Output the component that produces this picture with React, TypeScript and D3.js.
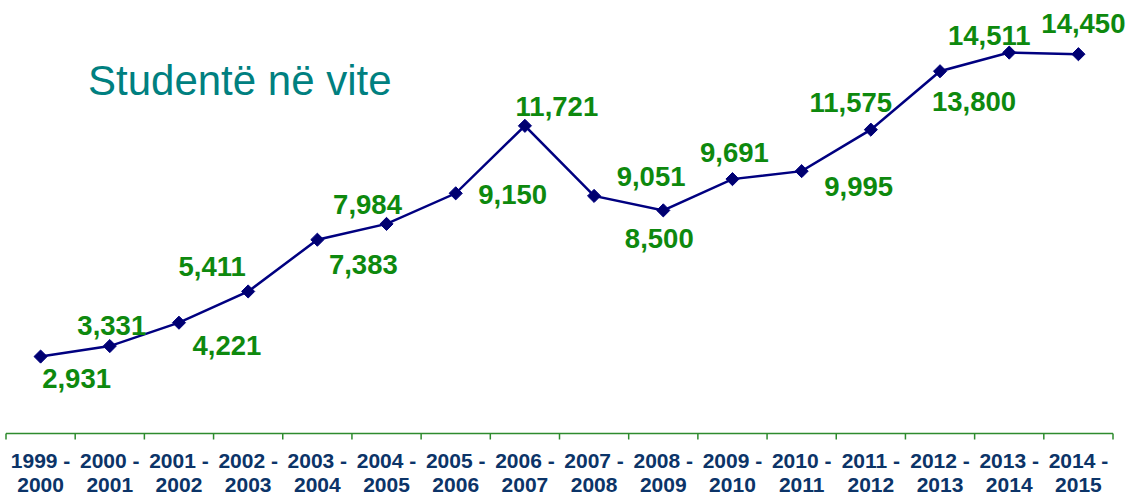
import React from "react";
import * as d3 from "d3";

const categories: string[][] = [
  ["1999 -", "2000"], ["2000 -", "2001"], ["2001 -", "2002"], ["2002 -", "2003"],
  ["2003 -", "2004"], ["2004 -", "2005"], ["2005 -", "2006"], ["2006 -", "2007"],
  ["2007 -", "2008"], ["2008 -", "2009"], ["2009 -", "2010"], ["2010 -", "2011"],
  ["2011 -", "2012"], ["2012 -", "2013"], ["2013 -", "2014"], ["2014 -", "2015"],
];
const students: number[] = [
  2931, 3331, 4221, 5411, 7383, 7984, 9150, 11721,
  9051, 8500, 9691, 9995, 11575, 13800, 14511, 14450,
];
// label offsets (dx, dy) relative to each point, layout only
const labelOffsets: [number, number][] = [
  [36, 31], [2, -11], [48, 32], [-36, -15], [46, 34], [-19, -10], [57, 11], [32, -10],
  [57, -10], [-4, 38], [2, -17], [57, 25], [-20, -18], [34, 40], [-20, -8], [5, -21],
];
const title = "Studentë në vite";

const W = 1132, H = 495;
const FONT = "Arial, 'Liberation Sans', Helvetica, sans-serif";

export default function App() {
  const x = d3.scaleBand<number>().domain(d3.range(categories.length)).range([6, 1113]);
  const y = d3.scaleLinear().domain([0, 16000]).range([433.5, 13.5]);
  const cx = (i: number) => (x(i) as number) + x.bandwidth() / 2;
  const line = d3.line<number>().x((_, i) => cx(i)).y((d) => y(d));
  const fmt = d3.format(",");
  const tickXs = d3.range(categories.length + 1).map((i) => 6 + i * x.step());
  const axisY = 433.5;

  return (
    <svg width={W} height={H} style={{ position: "absolute", left: 0, top: 0, background: "#fff" }}>
      <text x={88} y={95} fill="#008080" fontFamily={FONT} fontSize={42}>{title}</text>
      <line x1={6} x2={1113} y1={axisY} y2={axisY} stroke="#2e8b2e" strokeWidth={1.5} />
      {tickXs.map((tx, i) => (
        <line key={i} x1={tx} x2={tx} y1={axisY} y2={axisY + 6} stroke="#2e8b2e" strokeWidth={1.5} />
      ))}
      {categories.map((c, i) => (
        <text key={i} x={cx(i)} textAnchor="middle" fill="#0c3468" fontFamily={FONT} fontWeight="bold" fontSize={21}>
          <tspan x={cx(i)} y={468}>{c[0]}</tspan>
          <tspan x={cx(i)} y={492}>{c[1]}</tspan>
        </text>
      ))}
      <path d={line(students) || ""} fill="none" stroke="#000080" strokeWidth={2.5} />
      {students.map((v, i) => (
        <path key={i} d={d3.symbol(d3.symbolDiamond2, 110)() || ""}
          transform={`translate(${cx(i)},${y(v)})`} fill="#000070" stroke="#000080" strokeWidth={1} />
      ))}
      {students.map((v, i) => (
        <text key={i} x={cx(i) + labelOffsets[i][0]} y={y(v) + labelOffsets[i][1]} textAnchor="middle"
          fill="#0e890e" fontFamily={FONT} fontWeight="bold" fontSize={27.5}>{fmt(v)}</text>
      ))}
    </svg>
  );
}
